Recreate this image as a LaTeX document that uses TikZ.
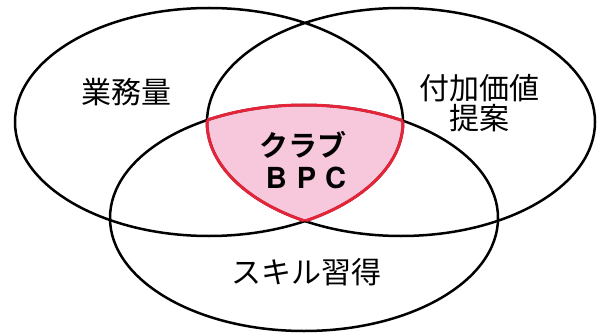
\documentclass[tikz,border=0pt]{standalone}
\usepackage{fontspec}
\setmainfont{Noto Sans CJK JP}[BoldFont={Noto Sans CJK JP Bold}]
\newfontfamily\bpcfont{TeX Gyre Heros}
\definecolor{clubpink}{RGB}{247,199,220}
\definecolor{clubred}{RGB}{228,36,56}
\newcommand{\gyomuset}{(209,213) ellipse [x radius=194, y radius=114]}
\newcommand{\fukaset}{(401,213) ellipse [x radius=194, y radius=114]}
\newcommand{\skillset}{(304,117) ellipse [x radius=194, y radius=113]}

\begin{document}
\begin{tikzpicture}[x=1pt, y=1pt, every node/.style={font=\fontsize{30}{30}\selectfont}]
        \useasboundingbox (0,0) rectangle (601,335);

        % overlap of all three
        \begin{scope}
            \clip \gyomuset; \clip \fukaset;
            \fill[clubpink] \skillset;
        \end{scope}

        \draw[line width=2.5pt] \gyomuset;
        \draw[line width=2.5pt] \fukaset;
        \draw[line width=2.5pt] \skillset;

        \begin{scope}
            \clip \gyomuset; \clip \fukaset;
            \draw[clubred, line width=3pt] \skillset;
        \end{scope}
        \begin{scope}
            \clip \fukaset; \clip \skillset;
            \draw[clubred, line width=3pt] \gyomuset;
        \end{scope}
        \begin{scope}
            \clip \gyomuset; \clip \skillset;
            \draw[clubred, line width=3pt] \fukaset;
        \end{scope}

        \node (gyomu) at (126,243) {業務量};
        \node[align=center] (fuka) at (479,232) {付加価値\\提案};
        \node (skill) at (306,63) {スキル習得};
        \node[font=\bfseries\fontsize{29}{30}\selectfont] (club) at (303,190) {クラブ};
        \node[font=\bpcfont\bfseries\fontsize{29}{30}\selectfont] (bpc) at (306,157) {B\hspace{10pt}P\hspace{9pt}C};
    \end{tikzpicture}
\end{document}
